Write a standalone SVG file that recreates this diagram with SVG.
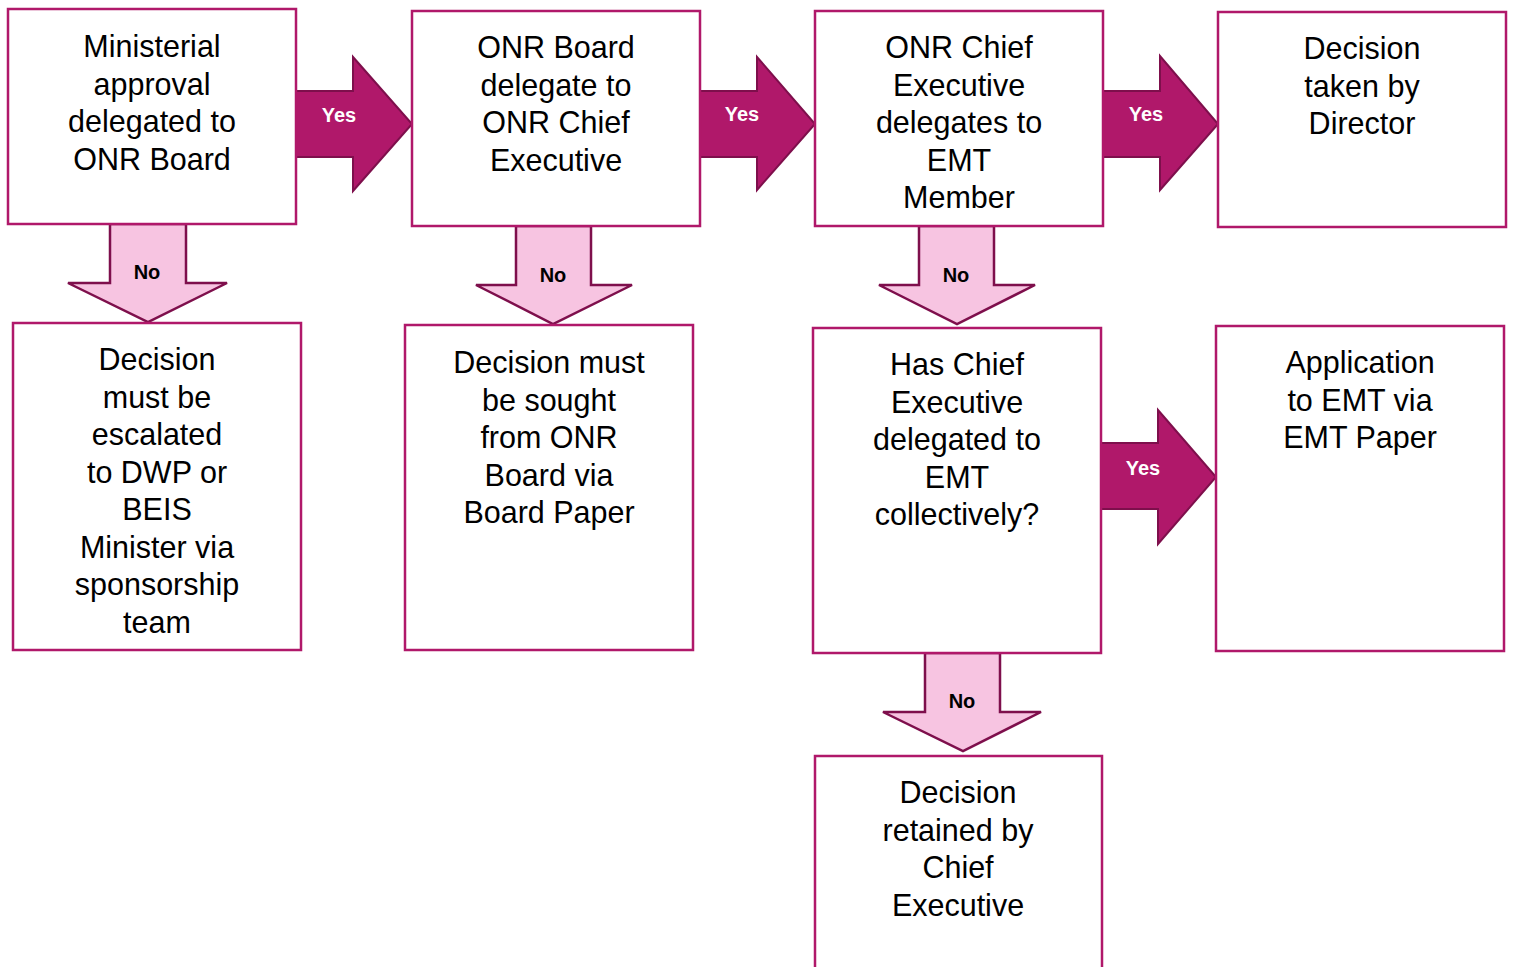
<svg xmlns="http://www.w3.org/2000/svg" width="1513" height="967" viewBox="0 0 1513 967">
<style>
.box{fill:#fff;stroke:#B0186A;stroke-width:2.5}
.t{font-family:"Liberation Sans",Arial,sans-serif;font-size:30.5px;fill:#000;text-anchor:middle}
.yes{fill:#B0186A;stroke:#7E0F4C;stroke-width:2}
.no{fill:#F7C4E1;stroke:#7E0F4C;stroke-width:2.5}
.yl{font-family:"Liberation Sans",Arial,sans-serif;font-size:20px;font-weight:bold;fill:#fff;text-anchor:middle}
.nl{font-family:"Liberation Sans",Arial,sans-serif;font-size:20px;font-weight:bold;fill:#000;text-anchor:middle}
</style>
<rect width="1513" height="967" fill="#fff"/>
<g id="connectors">
<polygon class="yes" points="296,91 353,91 353,57 412,124 353,191 353,157 296,157"/>
<text class="yl" x="339" y="122">Yes</text>
<polygon class="yes" points="700,91 757,91 757,57 815,124 757,190 757,157 700,157"/>
<text class="yl" x="742" y="121">Yes</text>
<polygon class="yes" points="1103,91 1160,91 1160,56 1218,124 1160,190 1160,157 1103,157"/>
<text class="yl" x="1146" y="121">Yes</text>
<polygon class="yes" points="1101,443 1158,443 1158,410 1216,477 1158,544 1158,509 1101,509"/>
<text class="yl" x="1143" y="475">Yes</text>
<polygon class="no" points="110,224 186,224 186,283 227,283 148,322 68,283 110,283"/>
<text class="nl" x="147" y="279">No</text>
<polygon class="no" points="516,226 591,226 591,285 632,285 553,324 476,285 516,285"/>
<text class="nl" x="553" y="282">No</text>
<polygon class="no" points="919,226 994,226 994,285 1035,285 957,324 879,285 919,285"/>
<text class="nl" x="956" y="282">No</text>
<polygon class="no" points="925,653 1000,653 1000,712 1041,712 963,751 883,712 925,712"/>
<text class="nl" x="962" y="708">No</text>
</g>
<g id="n1"><rect class="box" x="8" y="9" width="288" height="215"/>
<text class="t"><tspan x="152" y="57">Ministerial</tspan><tspan x="152" y="94.5">approval</tspan><tspan x="152" y="132">delegated to</tspan><tspan x="152" y="169.5">ONR Board</tspan></text></g>
<g id="n2"><rect class="box" x="412" y="11" width="288" height="215"/>
<text class="t"><tspan x="556" y="58">ONR Board</tspan><tspan x="556" y="95.5">delegate to</tspan><tspan x="556" y="133">ONR Chief</tspan><tspan x="556" y="170.5">Executive</tspan></text></g>
<g id="n3"><rect class="box" x="815" y="11" width="288" height="215"/>
<text class="t"><tspan x="959" y="58">ONR Chief</tspan><tspan x="959" y="95.5">Executive</tspan><tspan x="959" y="133">delegates to</tspan><tspan x="959" y="170.5">EMT</tspan><tspan x="959" y="208">Member</tspan></text></g>
<g id="n4"><rect class="box" x="1218" y="12" width="288" height="215"/>
<text class="t"><tspan x="1362" y="59">Decision</tspan><tspan x="1362" y="96.5">taken by</tspan><tspan x="1362" y="134">Director</tspan></text></g>
<g id="n5"><rect class="box" x="13" y="323" width="288" height="327"/>
<text class="t"><tspan x="157" y="370">Decision</tspan><tspan x="157" y="407.5">must be</tspan><tspan x="157" y="445">escalated</tspan><tspan x="157" y="482.5">to DWP or</tspan><tspan x="157" y="520">BEIS</tspan><tspan x="157" y="557.5">Minister via</tspan><tspan x="157" y="595">sponsorship</tspan><tspan x="157" y="632.5">team</tspan></text></g>
<g id="n6"><rect class="box" x="405" y="325" width="288" height="325"/>
<text class="t"><tspan x="549" y="373">Decision must</tspan><tspan x="549" y="410.5">be sought</tspan><tspan x="549" y="448">from ONR</tspan><tspan x="549" y="485.5">Board via</tspan><tspan x="549" y="523">Board Paper</tspan></text></g>
<g id="n7"><rect class="box" x="813" y="328" width="288" height="325"/>
<text class="t"><tspan x="957" y="375">Has Chief</tspan><tspan x="957" y="412.5">Executive</tspan><tspan x="957" y="450">delegated to</tspan><tspan x="957" y="487.5">EMT</tspan><tspan x="957" y="525">collectively?</tspan></text></g>
<g id="n8"><rect class="box" x="1216" y="326" width="288" height="325"/>
<text class="t"><tspan x="1360" y="373">Application</tspan><tspan x="1360" y="410.5">to EMT via</tspan><tspan x="1360" y="448">EMT Paper</tspan></text></g>
<g id="n9"><rect class="box" x="815" y="756" width="287" height="230"/>
<text class="t"><tspan x="958" y="803">Decision</tspan><tspan x="958" y="840.5">retained by</tspan><tspan x="958" y="878">Chief</tspan><tspan x="958" y="915.5">Executive</tspan></text></g>
</svg>
